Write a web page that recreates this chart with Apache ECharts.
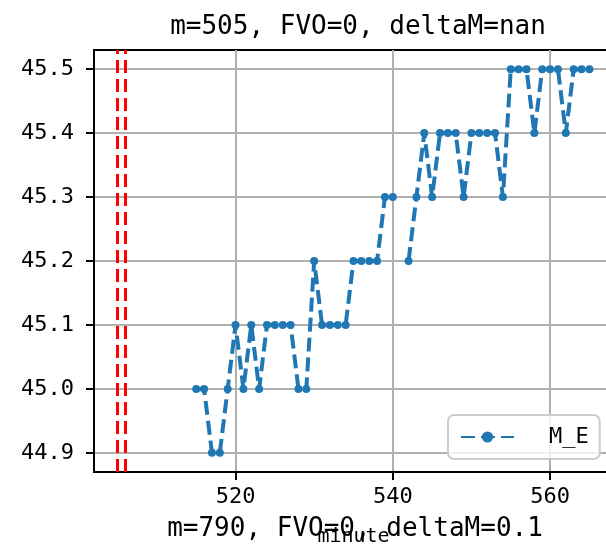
<!DOCTYPE html>
<html>
<head>
<meta charset="utf-8">
<script src="https://cdn.jsdelivr.net/npm/echarts@6/dist/echarts.min.js"></script>
<style>html,body{margin:0;padding:0;background:#fff}#c{width:606px;height:553px}</style>
</head>
<body>
<div id="c"></div>
<script>
const minutes = [515,516,517,518,519,520,521,522,523,524,525,526,527,528,529,530,531,532,533,534,535,536,537,538,539,540,541,542,543,544,545,546,547,548,549,550,551,552,553,554,555,556,557,558,559,560,561,562,563,564,565];
const mE = [45.0,45.0,44.9,44.9,45.0,45.1,45.0,45.1,45.0,45.1,45.1,45.1,45.1,45.0,45.0,45.2,45.1,45.1,45.1,45.1,45.2,45.2,45.2,45.2,45.3,45.3,null,45.2,45.3,45.4,45.3,45.4,45.4,45.4,45.3,45.4,45.4,45.4,45.4,45.3,45.5,45.5,45.5,45.4,45.5,45.5,45.5,45.4,45.5,45.5,45.5];
const redLines = [505, 506];
const xTicks = [520, 540, 560];
const yTicks = [44.9, 45.0, 45.1, 45.2, 45.3, 45.4, 45.5];
const titleText = 'm=505, FVO=0, deltaM=nan';
const nextTitleText = 'm=790, FVO=0, deltaM=0.1';
const seriesName = 'M_E';
const xName = 'minute';

const FONT = 'DejaVu Sans Mono';
const chart = echarts.init(document.getElementById('c'), null, {renderer: 'canvas'});
chart.setOption({
  animation: false,
  backgroundColor: '#fff',
  title: [
    {text: titleText, left: 353, top: 9, textAlign: 'center',
     textStyle: {fontFamily: FONT, fontSize: 26, fontWeight: 'normal', color: '#000'}},
    {text: nextTitleText, left: 350, top: 511, textAlign: 'center',
     textStyle: {fontFamily: FONT, fontSize: 26, fontWeight: 'normal', color: '#000'}}
  ],
  grid: {left: 94, top: 50, width: 519, height: 422, outerBoundsMode: 'none', containLabel: false,
    show: true, borderColor: '#000', borderWidth: 2, backgroundColor: 'transparent'},
  legend: {
    left: 448, top: 415, padding: [11, 11, 11, 12],
    borderColor: '#cccccc', borderWidth: 2, borderRadius: 6, backgroundColor: 'rgba(255,255,255,0.8)',
    itemWidth: 53, itemHeight: 14,
    textStyle: {fontFamily: FONT, fontSize: 22, color: '#000', padding: [0, 0, 0, 30]},
    data: [seriesName]
  },
  xAxis: {
    type: 'value', min: 502, max: 568,
    name: xName, nameLocation: 'middle', nameGap: 55,
    nameTextStyle: {fontFamily: FONT, fontSize: 20, color: '#000'},
    axisLine: {show: true, lineStyle: {color: '#000', width: 2}},
    axisTick: {show: true, length: 8, lineStyle: {color: '#000', width: 2}, customValues: xTicks},
    axisLabel: {customValues: xTicks, margin: 14, fontFamily: FONT, fontSize: 22, color: '#000'},
    splitLine: {show: true, lineStyle: {color: '#b0b0b0', width: 2}}
  },
  yAxis: {
    type: 'value', min: 44.87, max: 45.53,
    axisLine: {show: true, lineStyle: {color: '#000', width: 2}},
    axisTick: {show: true, length: 8, lineStyle: {color: '#000', width: 2}, customValues: yTicks},
    axisLabel: {customValues: yTicks, margin: 20, fontFamily: FONT, fontSize: 22, color: '#000',
      formatter: v => Number(v).toFixed(1)},
    splitLine: {show: true, lineStyle: {color: '#b0b0b0', width: 2}}
  },
  series: [{
    name: seriesName, type: 'line',
    data: minutes.map((m, i) => [m, mE[i]]),
    connectNulls: false,
    symbol: 'circle', symbolSize: 8, showSymbol: true,
    itemStyle: {color: '#1f77b4'},
    lineStyle: {color: '#1f77b4', width: 4, type: [14, 6]},
    markLine: {
      silent: true, symbol: 'none', label: {show: false},
      lineStyle: {color: '#ff0000', width: 3, type: [13, 6]},
      data: redLines.map(v => ({xAxis: v}))
    }
  }]
});
</script>
</body>
</html>
